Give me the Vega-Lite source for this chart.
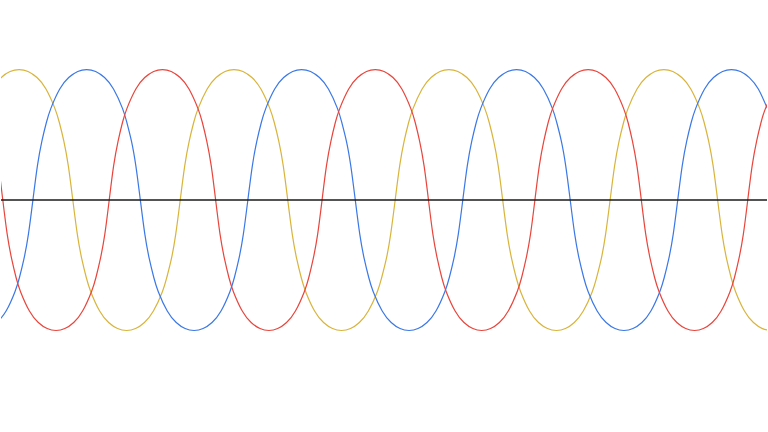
{
  "$schema": "https://vega.github.io/schema/vega-lite/v6.json",
  "width": 768,
  "height": 432,
  "padding": 0,
  "autosize": {"type": "fit", "contains": "padding"},
  "background": "white",
  "config": {"view": {"stroke": null}},
  "layer": [
    {
      "data": {"values": [
        {"p":"Y","x":-8.8,"v":0.8507},{"p":"Y","x":0.2,"v":0.9385},{"p":"Y","x":9.1,"v":0.9853},{"p":"Y","x":18.1,"v":1},{"p":"Y","x":27.1,"v":0.9853},{"p":"Y","x":36.1,"v":0.9385},{"p":"Y","x":45.1,"v":0.8507},{"p":"Y","x":54.0,"v":0.7024},{"p":"Y","x":63.0,"v":0.4518},{"p":"Y","x":72.0,"v":0},{"p":"Y","x":81.0,"v":-0.4518},{"p":"Y","x":90.0,"v":-0.7024},{"p":"Y","x":98.9,"v":-0.8507},{"p":"Y","x":107.9,"v":-0.9385},{"p":"Y","x":116.9,"v":-0.9853},{"p":"Y","x":125.9,"v":-1},{"p":"Y","x":134.9,"v":-0.9853},{"p":"Y","x":143.8,"v":-0.9385},{"p":"Y","x":152.8,"v":-0.8507},{"p":"Y","x":161.8,"v":-0.7024},{"p":"Y","x":170.8,"v":-0.4518},{"p":"Y","x":179.7,"v":0},{"p":"Y","x":188.7,"v":0.4518},{"p":"Y","x":197.7,"v":0.7024},{"p":"Y","x":206.7,"v":0.8507},{"p":"Y","x":215.7,"v":0.9385},{"p":"Y","x":224.6,"v":0.9853},{"p":"Y","x":233.6,"v":1},{"p":"Y","x":242.6,"v":0.9853},{"p":"Y","x":251.6,"v":0.9385},{"p":"Y","x":260.6,"v":0.8507},{"p":"Y","x":269.5,"v":0.7024},{"p":"Y","x":278.5,"v":0.4518},{"p":"Y","x":287.5,"v":0},{"p":"Y","x":296.5,"v":-0.4518},{"p":"Y","x":305.5,"v":-0.7024},{"p":"Y","x":314.4,"v":-0.8507},{"p":"Y","x":323.4,"v":-0.9385},{"p":"Y","x":332.4,"v":-0.9853},{"p":"Y","x":341.4,"v":-1},{"p":"Y","x":350.4,"v":-0.9853},{"p":"Y","x":359.3,"v":-0.9385},{"p":"Y","x":368.3,"v":-0.8507},{"p":"Y","x":377.3,"v":-0.7024},{"p":"Y","x":386.3,"v":-0.4518},{"p":"Y","x":395.2,"v":0},{"p":"Y","x":404.2,"v":0.4518},{"p":"Y","x":413.2,"v":0.7024},{"p":"Y","x":422.2,"v":0.8507},{"p":"Y","x":431.2,"v":0.9385},{"p":"Y","x":440.1,"v":0.9853},{"p":"Y","x":449.1,"v":1},{"p":"Y","x":458.1,"v":0.9853},{"p":"Y","x":467.1,"v":0.9385},{"p":"Y","x":476.1,"v":0.8507},{"p":"Y","x":485.0,"v":0.7024},{"p":"Y","x":494.0,"v":0.4518},{"p":"Y","x":503.0,"v":0},{"p":"Y","x":512.0,"v":-0.4518},{"p":"Y","x":521.0,"v":-0.7024},{"p":"Y","x":529.9,"v":-0.8507},{"p":"Y","x":538.9,"v":-0.9385},{"p":"Y","x":547.9,"v":-0.9853},{"p":"Y","x":556.9,"v":-1},{"p":"Y","x":565.9,"v":-0.9853},{"p":"Y","x":574.8,"v":-0.9385},{"p":"Y","x":583.8,"v":-0.8507},{"p":"Y","x":592.8,"v":-0.7024},{"p":"Y","x":601.8,"v":-0.4518},{"p":"Y","x":610.7,"v":0},{"p":"Y","x":619.7,"v":0.4518},{"p":"Y","x":628.7,"v":0.7024},{"p":"Y","x":637.7,"v":0.8507},{"p":"Y","x":646.7,"v":0.9385},{"p":"Y","x":655.6,"v":0.9853},{"p":"Y","x":664.6,"v":1},{"p":"Y","x":673.6,"v":0.9853},{"p":"Y","x":682.6,"v":0.9385},{"p":"Y","x":691.6,"v":0.8507},{"p":"Y","x":700.5,"v":0.7024},{"p":"Y","x":709.5,"v":0.4518},{"p":"Y","x":718.5,"v":0},{"p":"Y","x":727.5,"v":-0.4518},{"p":"Y","x":736.5,"v":-0.7024},{"p":"Y","x":745.4,"v":-0.8507},{"p":"Y","x":754.4,"v":-0.9385},{"p":"Y","x":763.4,"v":-0.9853},{"p":"Y","x":772.4,"v":-1},
        {"p":"Y","x":58.5,"v":0.594},{"p":"Y","x":67.5,"v":0.2616},{"p":"Y","x":76.5,"v":-0.2616},{"p":"Y","x":85.5,"v":-0.594},
        {"p":"Y","x":166.2,"v":-0.594},{"p":"Y","x":175.2,"v":-0.2616},{"p":"Y","x":184.2,"v":0.2616},{"p":"Y","x":193.2,"v":0.594},
        {"p":"Y","x":274.0,"v":0.594},{"p":"Y","x":283.0,"v":0.2616},{"p":"Y","x":292.0,"v":-0.2616},{"p":"Y","x":301.0,"v":-0.594},
        {"p":"Y","x":381.7,"v":-0.594},{"p":"Y","x":390.7,"v":-0.2616},{"p":"Y","x":399.7,"v":0.2616},{"p":"Y","x":408.7,"v":0.594},
        {"p":"Y","x":489.5,"v":0.594},{"p":"Y","x":498.5,"v":0.2616},{"p":"Y","x":507.5,"v":-0.2616},{"p":"Y","x":516.5,"v":-0.594},
        {"p":"Y","x":597.2,"v":-0.594},{"p":"Y","x":606.2,"v":-0.2616},{"p":"Y","x":615.2,"v":0.2616},{"p":"Y","x":624.2,"v":0.594},
        {"p":"Y","x":705.0,"v":0.594},{"p":"Y","x":714.0,"v":0.2616},{"p":"Y","x":723.0,"v":-0.2616},{"p":"Y","x":732.0,"v":-0.594},
        {"p":"B","x":-3.9,"v":-0.9385},{"p":"B","x":5.1,"v":-0.8507},{"p":"B","x":14.0,"v":-0.7024},{"p":"B","x":23.0,"v":-0.4518},{"p":"B","x":32.0,"v":0},{"p":"B","x":41.0,"v":0.4518},{"p":"B","x":50.0,"v":0.7024},{"p":"B","x":58.9,"v":0.8507},{"p":"B","x":67.9,"v":0.9385},{"p":"B","x":76.9,"v":0.9853},{"p":"B","x":85.9,"v":1},{"p":"B","x":94.9,"v":0.9853},{"p":"B","x":103.8,"v":0.9385},{"p":"B","x":112.8,"v":0.8507},{"p":"B","x":121.8,"v":0.7024},{"p":"B","x":130.8,"v":0.4518},{"p":"B","x":139.7,"v":0},{"p":"B","x":148.7,"v":-0.4518},{"p":"B","x":157.7,"v":-0.7024},{"p":"B","x":166.7,"v":-0.8507},{"p":"B","x":175.7,"v":-0.9385},{"p":"B","x":184.6,"v":-0.9853},{"p":"B","x":193.6,"v":-1},{"p":"B","x":202.6,"v":-0.9853},{"p":"B","x":211.6,"v":-0.9385},{"p":"B","x":220.6,"v":-0.8507},{"p":"B","x":229.5,"v":-0.7024},{"p":"B","x":238.5,"v":-0.4518},{"p":"B","x":247.5,"v":0},{"p":"B","x":256.5,"v":0.4518},{"p":"B","x":265.5,"v":0.7024},{"p":"B","x":274.4,"v":0.8507},{"p":"B","x":283.4,"v":0.9385},{"p":"B","x":292.4,"v":0.9853},{"p":"B","x":301.4,"v":1},{"p":"B","x":310.4,"v":0.9853},{"p":"B","x":319.3,"v":0.9385},{"p":"B","x":328.3,"v":0.8507},{"p":"B","x":337.3,"v":0.7024},{"p":"B","x":346.3,"v":0.4518},{"p":"B","x":355.2,"v":0},{"p":"B","x":364.2,"v":-0.4518},{"p":"B","x":373.2,"v":-0.7024},{"p":"B","x":382.2,"v":-0.8507},{"p":"B","x":391.2,"v":-0.9385},{"p":"B","x":400.1,"v":-0.9853},{"p":"B","x":409.1,"v":-1},{"p":"B","x":418.1,"v":-0.9853},{"p":"B","x":427.1,"v":-0.9385},{"p":"B","x":436.1,"v":-0.8507},{"p":"B","x":445.0,"v":-0.7024},{"p":"B","x":454.0,"v":-0.4518},{"p":"B","x":463.0,"v":0},{"p":"B","x":472.0,"v":0.4518},{"p":"B","x":481.0,"v":0.7024},{"p":"B","x":489.9,"v":0.8507},{"p":"B","x":498.9,"v":0.9385},{"p":"B","x":507.9,"v":0.9853},{"p":"B","x":516.9,"v":1},{"p":"B","x":525.9,"v":0.9853},{"p":"B","x":534.8,"v":0.9385},{"p":"B","x":543.8,"v":0.8507},{"p":"B","x":552.8,"v":0.7024},{"p":"B","x":561.8,"v":0.4518},{"p":"B","x":570.7,"v":0},{"p":"B","x":579.7,"v":-0.4518},{"p":"B","x":588.7,"v":-0.7024},{"p":"B","x":597.7,"v":-0.8507},{"p":"B","x":606.7,"v":-0.9385},{"p":"B","x":615.6,"v":-0.9853},{"p":"B","x":624.6,"v":-1},{"p":"B","x":633.6,"v":-0.9853},{"p":"B","x":642.6,"v":-0.9385},{"p":"B","x":651.6,"v":-0.8507},{"p":"B","x":660.5,"v":-0.7024},{"p":"B","x":669.5,"v":-0.4518},{"p":"B","x":678.5,"v":0},{"p":"B","x":687.5,"v":0.4518},{"p":"B","x":696.5,"v":0.7024},{"p":"B","x":705.4,"v":0.8507},{"p":"B","x":714.4,"v":0.9385},{"p":"B","x":723.4,"v":0.9853},{"p":"B","x":732.4,"v":1},{"p":"B","x":741.4,"v":0.9853},{"p":"B","x":750.3,"v":0.9385},{"p":"B","x":759.3,"v":0.8507},{"p":"B","x":768.3,"v":0.7024},
        {"p":"B","x":18.5,"v":-0.594},{"p":"B","x":27.5,"v":-0.2616},{"p":"B","x":36.5,"v":0.2616},{"p":"B","x":45.5,"v":0.594},
        {"p":"B","x":126.2,"v":0.594},{"p":"B","x":135.2,"v":0.2616},{"p":"B","x":144.2,"v":-0.2616},{"p":"B","x":153.2,"v":-0.594},
        {"p":"B","x":234.0,"v":-0.594},{"p":"B","x":243.0,"v":-0.2616},{"p":"B","x":252.0,"v":0.2616},{"p":"B","x":261.0,"v":0.594},
        {"p":"B","x":341.7,"v":0.594},{"p":"B","x":350.7,"v":0.2616},{"p":"B","x":359.7,"v":-0.2616},{"p":"B","x":368.7,"v":-0.594},
        {"p":"B","x":449.5,"v":-0.594},{"p":"B","x":458.5,"v":-0.2616},{"p":"B","x":467.5,"v":0.2616},{"p":"B","x":476.5,"v":0.594},
        {"p":"B","x":557.2,"v":0.594},{"p":"B","x":566.2,"v":0.2616},{"p":"B","x":575.2,"v":-0.2616},{"p":"B","x":584.2,"v":-0.594},
        {"p":"B","x":665.0,"v":-0.594},{"p":"B","x":674.0,"v":-0.2616},{"p":"B","x":683.0,"v":0.2616},{"p":"B","x":692.0,"v":0.594},
        {"p":"R","x":-7.1,"v":0.4518},{"p":"R","x":1.8,"v":0},{"p":"R","x":10.7,"v":-0.4518},{"p":"R","x":19.6,"v":-0.7024},{"p":"R","x":28.5,"v":-0.8507},{"p":"R","x":37.4,"v":-0.9385},{"p":"R","x":46.3,"v":-0.9853},{"p":"R","x":55.2,"v":-1},{"p":"R","x":64.0,"v":-0.9853},{"p":"R","x":72.9,"v":-0.9385},{"p":"R","x":81.8,"v":-0.8507},{"p":"R","x":90.7,"v":-0.7024},{"p":"R","x":99.6,"v":-0.4518},{"p":"R","x":108.5,"v":0},{"p":"R","x":117.4,"v":0.4518},{"p":"R","x":126.3,"v":0.7024},{"p":"R","x":135.2,"v":0.8507},{"p":"R","x":144.1,"v":0.9385},{"p":"R","x":153.0,"v":0.9853},{"p":"R","x":161.9,"v":1},{"p":"R","x":170.7,"v":0.9853},{"p":"R","x":179.6,"v":0.9385},{"p":"R","x":188.5,"v":0.8507},{"p":"R","x":197.4,"v":0.7024},{"p":"R","x":206.3,"v":0.4518},{"p":"R","x":215.2,"v":0},{"p":"R","x":224.1,"v":-0.4518},{"p":"R","x":233.0,"v":-0.7024},{"p":"R","x":241.9,"v":-0.8507},{"p":"R","x":250.8,"v":-0.9385},{"p":"R","x":259.7,"v":-0.9853},{"p":"R","x":268.6,"v":-1},{"p":"R","x":277.4,"v":-0.9853},{"p":"R","x":286.3,"v":-0.9385},{"p":"R","x":295.2,"v":-0.8507},{"p":"R","x":304.1,"v":-0.7024},{"p":"R","x":313.0,"v":-0.4518},{"p":"R","x":321.9,"v":0},{"p":"R","x":330.8,"v":0.4518},{"p":"R","x":339.7,"v":0.7024},{"p":"R","x":348.6,"v":0.8507},{"p":"R","x":357.5,"v":0.9385},{"p":"R","x":366.4,"v":0.9853},{"p":"R","x":375.3,"v":1},{"p":"R","x":384.1,"v":0.9853},{"p":"R","x":393.0,"v":0.9385},{"p":"R","x":401.9,"v":0.8507},{"p":"R","x":410.8,"v":0.7024},{"p":"R","x":419.7,"v":0.4518},{"p":"R","x":428.6,"v":0},{"p":"R","x":437.5,"v":-0.4518},{"p":"R","x":446.4,"v":-0.7024},{"p":"R","x":455.3,"v":-0.8507},{"p":"R","x":464.2,"v":-0.9385},{"p":"R","x":473.1,"v":-0.9853},{"p":"R","x":482.0,"v":-1},{"p":"R","x":490.8,"v":-0.9853},{"p":"R","x":499.7,"v":-0.9385},{"p":"R","x":508.6,"v":-0.8507},{"p":"R","x":517.5,"v":-0.7024},{"p":"R","x":526.4,"v":-0.4518},{"p":"R","x":535.3,"v":0},{"p":"R","x":544.2,"v":0.4518},{"p":"R","x":553.1,"v":0.7024},{"p":"R","x":562.0,"v":0.8507},{"p":"R","x":570.9,"v":0.9385},{"p":"R","x":579.8,"v":0.9853},{"p":"R","x":588.7,"v":1},{"p":"R","x":597.5,"v":0.9853},{"p":"R","x":606.4,"v":0.9385},{"p":"R","x":615.3,"v":0.8507},{"p":"R","x":624.2,"v":0.7024},{"p":"R","x":633.1,"v":0.4518},{"p":"R","x":642.0,"v":0},{"p":"R","x":650.9,"v":-0.4518},{"p":"R","x":659.8,"v":-0.7024},{"p":"R","x":668.7,"v":-0.8507},{"p":"R","x":677.6,"v":-0.9385},{"p":"R","x":686.5,"v":-0.9853},{"p":"R","x":695.4,"v":-1},{"p":"R","x":704.2,"v":-0.9853},{"p":"R","x":713.1,"v":-0.9385},{"p":"R","x":722.0,"v":-0.8507},{"p":"R","x":730.9,"v":-0.7024},{"p":"R","x":739.8,"v":-0.4518},{"p":"R","x":748.7,"v":0},{"p":"R","x":757.6,"v":0.4518},{"p":"R","x":766.5,"v":0.7024},{"p":"R","x":775.4,"v":0.8507},
        {"p":"R","x":-11.5,"v":0.594},{"p":"R","x":-2.6,"v":0.2616},{"p":"R","x":6.2,"v":-0.2616},{"p":"R","x":15.1,"v":-0.594},
        {"p":"R","x":95.2,"v":-0.594},{"p":"R","x":104.1,"v":-0.2616},{"p":"R","x":112.9,"v":0.2616},{"p":"R","x":121.8,"v":0.594},
        {"p":"R","x":201.9,"v":0.594},{"p":"R","x":210.8,"v":0.2616},{"p":"R","x":219.6,"v":-0.2616},{"p":"R","x":228.5,"v":-0.594},
        {"p":"R","x":308.6,"v":-0.594},{"p":"R","x":317.5,"v":-0.2616},{"p":"R","x":326.3,"v":0.2616},{"p":"R","x":335.2,"v":0.594},
        {"p":"R","x":415.3,"v":0.594},{"p":"R","x":424.2,"v":0.2616},{"p":"R","x":433.0,"v":-0.2616},{"p":"R","x":441.9,"v":-0.594},
        {"p":"R","x":522.0,"v":-0.594},{"p":"R","x":530.9,"v":-0.2616},{"p":"R","x":539.7,"v":0.2616},{"p":"R","x":548.6,"v":0.594},
        {"p":"R","x":628.7,"v":0.594},{"p":"R","x":637.6,"v":0.2616},{"p":"R","x":646.4,"v":-0.2616},{"p":"R","x":655.3,"v":-0.594},
        {"p":"R","x":735.4,"v":-0.594},{"p":"R","x":744.3,"v":-0.2616},{"p":"R","x":753.1,"v":0.2616},{"p":"R","x":762.0,"v":0.594}
      ]},
      "mark": {"type": "line", "interpolate": "natural", "strokeWidth": 1.2, "clip": true},
      "encoding": {
        "x": {"field": "x", "type": "quantitative", "scale": {"domain": [0, 768], "nice": false, "zero": false}, "axis": null},
        "y": {"field": "v", "type": "quantitative", "scale": {"domain": [-1.778, 1.533], "nice": false, "zero": false}, "axis": null},
        "color": {"field": "p", "type": "nominal", "scale": {"domain": ["Y", "B", "R"], "range": ["#d9b43c", "#3b78e6", "#e8453c"]}, "legend": null},
        "order": {"field": "x", "type": "quantitative"}
      }
    },
    {
      "data": {"values": [{"v": 0}]},
      "mark": {"type": "rule", "color": "#1a1a1a", "strokeWidth": 1.6},
      "encoding": {"y": {"field": "v", "type": "quantitative"}}
    }
  ]
}
